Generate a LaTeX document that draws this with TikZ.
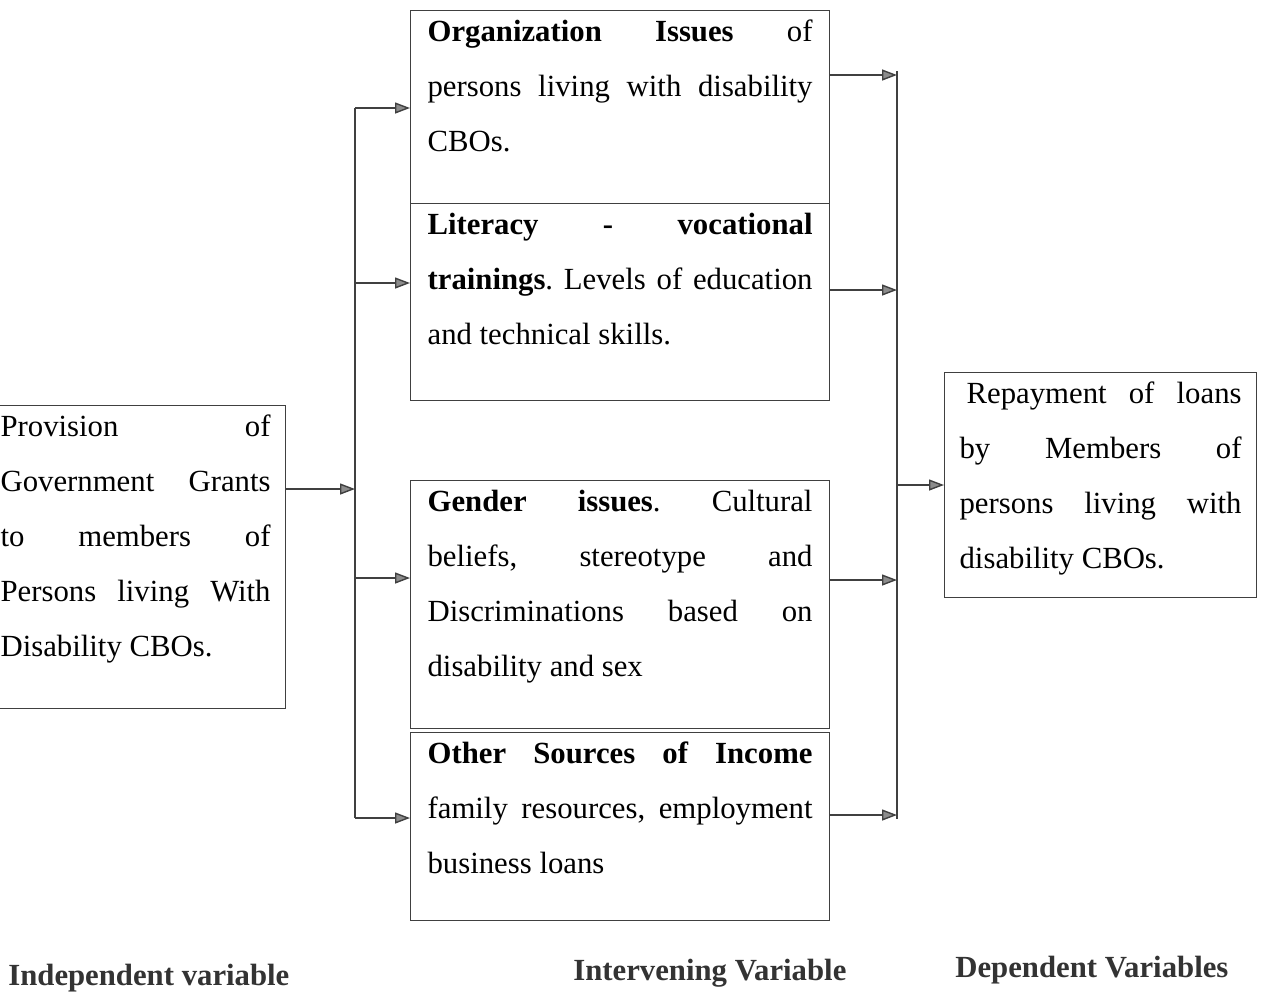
\documentclass[tikz,border=0pt]{standalone}
\usepackage{fontspec}
\setmainfont{Liberation Serif}
\usetikzlibrary{arrows.meta}
\tikzstyle{box}=[draw=black!75, line width=0.7pt, anchor=north west, inner xsep=0.34cm, inner ysep=0pt, font=\fontsize{17.5}{31.3}\selectfont]
\tikzstyle{arr}=[draw=black!75, line width=0.8pt, -{Triangle[length=0.3cm,width=0.22cm,fill=black!45]}]
\tikzstyle{caption}=[anchor=base west, inner sep=0pt, font=\fontsize{17.5}{20}\selectfont\bfseries, text=black!80]
\newcommand{\boxbody}[3]{\parbox[c][#1][t]{#2}{\frenchspacing\tolerance=10000\hbadness=10000\hyphenpenalty=10000\rule{0pt}{0.62cm}#3}}

\begin{document}
\begin{tikzpicture}[x=0.02cm, y=-0.02cm]
		\useasboundingbox (0,0) rectangle (1268,995);
		\clip (0,0) rectangle (1268,995);

		\node[box, inner xsep=0.3cm] (0) at (-15,405) {\boxbody{6.06cm}{5.4cm}{Provision of\linebreak Government Grants\linebreak to members of\linebreak Persons living With\linebreak Disability CBOs.}};
		\node[box] (1) at (410,10) {\boxbody{3.86cm}{7.7cm}{\textbf{Organization Issues} of\linebreak persons living with disability\linebreak CBOs.}};
		\node[box] (2) at (410,203) {\boxbody{3.94cm}{7.7cm}{\textbf{Literacy - vocational}\linebreak \textbf{trainings}. Levels of education\linebreak and technical skills.}};
		\node[box] (3) at (410,480) {\boxbody{4.96cm}{7.7cm}{\textbf{Gender issues}. Cultural\linebreak beliefs, stereotype and\linebreak Discriminations based on\linebreak disability and sex}};
		\node[box] (4) at (410,732) {\boxbody{3.76cm}{7.7cm}{\textbf{Other Sources of Income}\linebreak family resources, employment\linebreak business loans}};
		\node[box, inner xsep=0.3cm] (5) at (944,372) {\boxbody{4.5cm}{5.64cm}{\hspace{0.14cm}Repayment of loans\linebreak by Members of\linebreak persons living with\linebreak disability CBOs.}};

		% bus lines
		\coordinate (d) at (355,489);
		\coordinate (c) at (897,485);
		\foreach \n / \y in {1/108,2/283,3/578,4/818}
		\coordinate (a\n) at (355,\y);
		\foreach \n / \y in {1/75,2/290,3/580,4/815}
		\coordinate (b\n) at (897,\y);
		\draw[draw=black!75, line width=0.8pt] (a1) -- (a4);
		\draw[draw=black!75, line width=0.8pt] ([yshift=2pt]b1) -- ([yshift=-2pt]b4);

		\path[arr] (d -| 0.east) -- (d);
		\foreach \n in {1,...,4}
		\path[arr] (a\n) -- (a\n -| \n.west);
		\foreach \n in {1,...,4}
		\path[arr] (b\n -| \n.east) -- (b\n);
		\path[arr] (c) -- (c -| 5.west);

		\node[caption] (6) at (8,985) {Independent variable};
		\node[caption] (7) at (573,980) {Intervening Variable};
		\node[caption] (8) at (955,977) {Dependent Variables};
	\end{tikzpicture}
\end{document}
